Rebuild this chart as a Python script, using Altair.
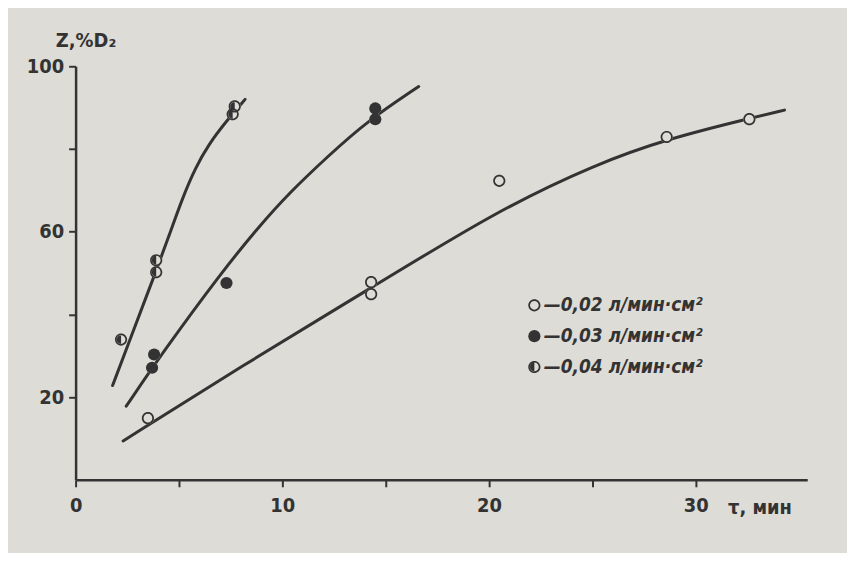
import altair as alt
import pandas as pd

# ---- data ----
labels = ["—0,02 л/мин·см²", "—0,03 л/мин·см²", "—0,04 л/мин·см²"]

s1_x = [3.5, 14.3, 14.3, 20.5, 28.6, 32.6]
s1_y = [14.9, 47.8, 44.9, 72.3, 82.9, 87.2]
s2_x = [3.7, 3.8, 7.3, 14.5, 14.5]
s2_y = [27.1, 30.3, 47.6, 87.2, 89.8]
s3_x = [2.2, 3.9, 3.9, 7.6, 7.7]
s3_y = [33.9, 50.2, 53.1, 88.4, 90.3]

c1_x = [2.3, 8.0, 14.3, 20.4, 25.2, 28.6, 32.6, 34.3]
c1_y = [9.4, 27.4, 46.4, 65.1, 76.4, 82.4, 87.4, 89.4]
c2_x = [2.45, 4.2, 7.08, 8.85, 10.3, 12.2, 14.1, 16.6]
c2_y = [17.8, 30.7, 50.3, 61.1, 69.2, 78.2, 86.7, 95.1]
c3_x = [1.79, 2.63, 3.88, 4.52, 5.16, 5.80, 6.44, 7.24, 8.2]
c3_y = [22.8, 33.9, 50.3, 59.0, 68.0, 75.5, 81.1, 86.4, 92.0]

x_ticks = [0, 5, 10, 15, 20, 25, 30]
y_ticks = [20, 40, 60, 80, 100]

BG = "#dddcd6"
INK = "#333333"
FONT = "DejaVu Sans Condensed"

pts = pd.concat([
    pd.DataFrame({"t": s1_x, "z": s1_y, "s": labels[0]}),
    pd.DataFrame({"t": s2_x, "z": s2_y, "s": labels[1]}),
    pd.DataFrame({"t": s3_x, "z": s3_y, "s": labels[2]}),
])
curves = pd.concat([
    pd.DataFrame({"t": c1_x, "z": c1_y, "s": labels[0], "o": range(len(c1_x))}),
    pd.DataFrame({"t": c2_x, "z": c2_y, "s": labels[1], "o": range(len(c2_x))}),
    pd.DataFrame({"t": c3_x, "z": c3_y, "s": labels[2], "o": range(len(c3_x))}),
])

ring = ("M0,-1A1,1 0 1,1 0,1A1,1 0 1,1 0,-1Z"
        "M0,-0.72A0.72,0.72 0 1,0 0,0.72A0.72,0.72 0 1,0 0,-0.72Z")
half = ring + "M0,-0.75A0.75,0.75 0 0,0 0,0.75Z"

xs = alt.Scale(domain=[0, 35.4], nice=False, zero=False)
ys = alt.Scale(domain=[0, 100], nice=False)

X = alt.X("t:Q", scale=xs, axis=alt.Axis(
    values=x_ticks, labelExpr="datum.value % 10 == 0 ? datum.label : ''",
    labelPadding=9,
    title="τ, мин", titleAngle=0, titleX=688, titleY=28, titleAlign="center",
    titleBaseline="middle", titleFontSize=20, titleFont=FONT, titleFontWeight="bold",
    titleColor=INK, labelFlush=False, grid=False))
Y = alt.Y("z:Q", scale=ys, axis=alt.Axis(
    values=y_ticks, labelExpr="datum.value == 20 || datum.value == 60 || datum.value == 100 ? datum.label : ''",
    title="Z,%D₂", titleAngle=0, titleX=10, titleY=-26, titleAlign="center",
    titleBaseline="middle", titleFontSize=20, titleFont=FONT, titleFontWeight="bold",
    titleColor=INK, grid=False))

lines = alt.Chart(curves).mark_line(
    color=INK, strokeWidth=3, interpolate="basis", strokeCap="round"
).encode(x=X, y=Y, detail="s:N", order="o:Q")

under = alt.Chart(pts).mark_point(
    filled=True, shape="circle", size=150, color=BG, opacity=1
).encode(x="t:Q", y="z:Q")

marks = alt.Chart(pts).mark_point(
    filled=True, size=150, color=INK, opacity=1
).encode(
    x="t:Q", y="z:Q",
    shape=alt.Shape("s:N", scale=alt.Scale(domain=labels, range=[ring, "circle", half]),
                    legend=alt.Legend(
                        title=None, orient="none", legendX=452, legendY=231,
                        labelFontSize=19, labelFont=FONT, labelFontWeight="bold",
                        labelFontStyle="italic", labelColor=INK, labelOffset=0,
                        symbolSize=150, symbolFillColor=INK, symbolStrokeWidth=0,
                        rowPadding=11, labelLimit=300)),
)

chart = alt.layer(lines, under, marks).properties(
    width=736, height=416,
    autosize=alt.AutoSizeParams(type="none"),
    padding={"left": 68, "top": 57, "right": 40, "bottom": 72},
    background=BG,
).configure_view(stroke=None).configure_axis(
    domainColor=INK, domainWidth=2.5, tickColor=INK, tickWidth=2, tickSize=7,
    labelFont=FONT, labelFontSize=20, labelFontWeight="bold", labelColor=INK,
    labelPadding=5,
)

chart.save("out.html", embed_options={"renderer": "svg", "actions": False})
